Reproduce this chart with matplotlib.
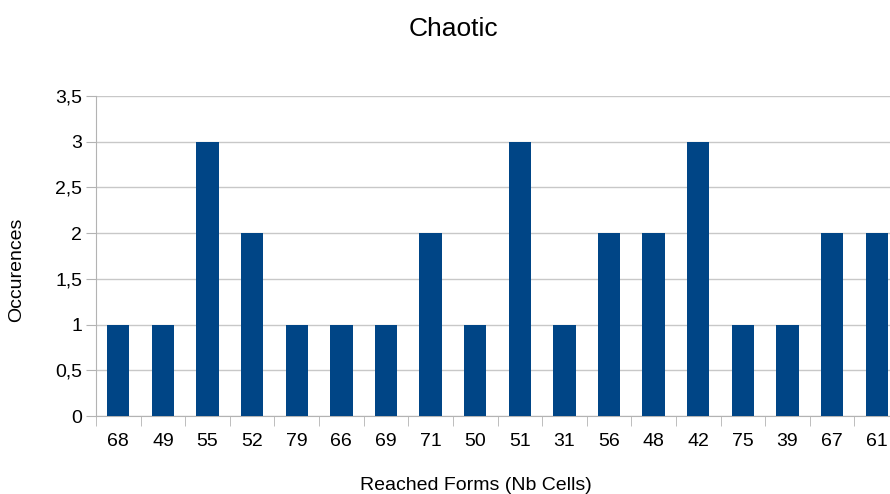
import numpy as np
import matplotlib.pyplot as plt

plt.rcParams['font.family'] = ['Liberation Sans', 'DejaVu Sans']

forms = ['68', '49', '55', '52', '79', '66', '69', '71', '50', '51', '31', '56', '48', '42', '75', '39', '67', '61']
occurences = [1, 1, 3, 2, 1, 1, 1, 2, 1, 3, 1, 2, 2, 3, 1, 1, 2, 2]
yticks = [0, 0.5, 1, 1.5, 2, 2.5, 3, 3.5]
ylabels = ['0', '0,5', '1', '1,5', '2', '2,5', '3', '3,5']

fig = plt.figure(figsize=(8.9, 4.94), dpi=100)
ax = fig.add_axes([96 / 890, 78 / 494, 803 / 890, 320 / 494])

x = np.arange(len(forms))
ax.bar(x, occurences, width=0.5, color='#004586', zorder=3)

ax.set_xlim(-0.5, len(forms) - 0.5)
ax.set_ylim(0, 3.5)
ax.set_yticks(yticks)
ax.set_yticklabels(ylabels, fontsize=14)
ax.set_xticks(x)
ax.set_xticklabels(forms, fontsize=14)
ax.set_xticks(np.arange(len(forms) + 1) - 0.5, minor=True)
ax.tick_params(axis='x', which='major', length=0, pad=12)
ax.tick_params(axis='x', which='minor', length=7, color='#b3b3b3')
ax.tick_params(axis='y', length=7, color='#b3b3b3', pad=3)

ax.grid(axis='y', color='#c8c8c8', linewidth=1, zorder=0)
for s in ['top', 'right']:
    ax.spines[s].set_visible(False)
ax.spines['left'].set_color('#b3b3b3')
ax.spines['bottom'].set_color('#b3b3b3')

ax.set_ylabel('Occurences', fontsize=14)
ax.yaxis.set_label_coords(-0.088, 0.456)
ax.set_xlabel('Reached Forms (Nb Cells)', fontsize=14)
ax.xaxis.set_label_coords(0.473, -0.19)
fig.suptitle('Chaotic', fontsize=19, x=0.51, y=0.965)

fig.savefig('out.png', dpi=100)
